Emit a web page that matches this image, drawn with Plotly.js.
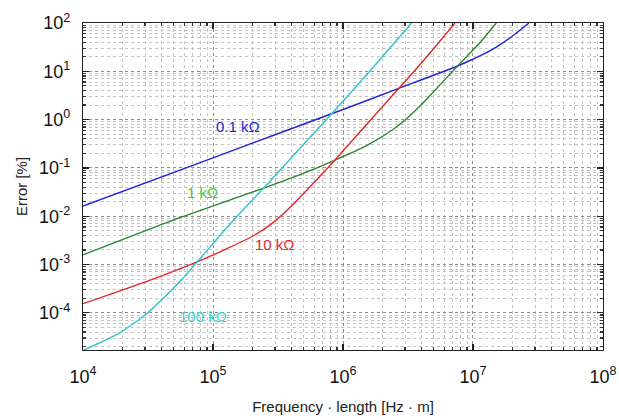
<!DOCTYPE html>
<html>
<head>
<meta charset="utf-8">
<script src="https://cdn.plot.ly/plotly-3.0.1.min.js"></script>
<style>html,body{margin:0;padding:0;background:#fff;}#chart{width:619px;height:419px;}</style>
</head>
<body>
<div id="chart"></div>
<script>
// Frequency · length [Hz · m]
const blueX  = [1e4, 1e5, 1e6, 2.59e6, 7.94e6, 1.26e7, 1.51e7, 2.04e7, 2.69e7];
const blueY  = [0.0162, 0.162, 1.62, 4.27, 13.5, 24.0, 31.6, 55.0, 100];

const greenX = [1e4, 5.57e4, 2.51e5, 4.67e5, 8.18e5, 1.52e6, 2.44e6, 3.09e6, 3.91e6, 4.95e6, 7.94e6, 1.12e7, 1.51e7];
const greenY = [1.58e-3, 9.33e-3, 0.0389, 0.0724, 0.135, 0.288, 0.631, 1.05, 1.91, 3.72, 14.5, 38.0, 100];

const redX   = [1e4, 2.0e4, 3.98e4, 7.94e4, 1.26e5, 2.0e5, 2.82e5, 3.98e5, 5.62e5, 7.94e5, 1.12e6, 2.0e6, 3.98e6, 7.28e6];
const redY   = [1.55e-4, 2.95e-4, 5.75e-4, 1.20e-3, 2.09e-3, 3.80e-3, 6.92e-3, 0.0158, 0.0417, 0.112, 0.316, 1.82, 14.5, 100];

const cyanX  = [1e4, 1.35e4, 1.93e4, 3.09e4, 5.57e4, 7.94e4, 1.13e5, 1.61e5, 2.51e5, 4.15e5, 8.18e5, 1.58e6, 3.37e6];
const cyanY  = [1.66e-5, 2.40e-5, 3.90e-5, 9.55e-5, 4.47e-4, 1.32e-3, 4.0e-3, 0.0115, 0.0407, 0.18, 1.32, 9.55, 100];

const seriesNames = ["0.1 k\u03A9", "1 k\u03A9", "10 k\u03A9", "100 k\u03A9"];
const xTickVals = [1e4, 1e5, 1e6, 1e7, 1e8];
const xTickText = ["10<sup>4</sup>", "10<sup>5</sup>", "10<sup>6</sup>", "10<sup>7</sup>", "10<sup>8</sup>"];
const yTickVals = [1e-4, 1e-3, 1e-2, 1e-1, 1, 10, 100];
const yTickText = ["10<sup>-4</sup>", "10<sup>-3</sup>", "10<sup>-2</sup>", "10<sup>-1</sup>", "10<sup>0</sup>", "10<sup>1</sup>", "10<sup>2</sup>"];

const lineColors  = ["rgb(35,35,215)", "rgb(40,135,45)", "rgb(228,38,38)", "rgb(45,195,200)"];
const labelColors = ["rgb(35,35,215)", "rgb(70,200,70)", "rgb(228,38,38)", "rgb(50,215,215)"];
// label anchor positions (log10 units)
const labelPos = [[5.19, -0.135], [4.92, -1.5], [5.477, -2.594], [4.92, -4.083]];

const xs = [blueX, greenX, redX, cyanX];
const ys = [blueY, greenY, redY, cyanY];

const traces = xs.map((x, i) => ({
  x: x, y: ys[i], type: 'scatter', mode: 'lines', name: seriesNames[i],
  line: {color: lineColors[i], width: 1.4, shape: 'spline', smoothing: 0.6},
  showlegend: false, hoverinfo: 'skip'
}));

const annotations = seriesNames.map((t, i) => ({
  x: labelPos[i][0], y: labelPos[i][1], xref: 'x', yref: 'y', text: t,
  showarrow: false, font: {family: 'Liberation Sans, Arial, sans-serif', size: 15, color: labelColors[i]},
  xanchor: 'center', yanchor: 'middle'
}));

const axisCommon = {
  type: 'log', showline: true, linecolor: '#222', linewidth: 1.2, mirror: 'allticks',
  ticks: 'inside', ticklen: 6, tickcolor: '#222', tickwidth: 1.2,
  showgrid: true, gridcolor: '#8c8c8c', griddash: 'dot', gridwidth: 1,
  zeroline: false, automargin: false, tickmode: 'array',
  tickfont: {family: 'Liberation Sans, Arial, sans-serif', size: 18, color: '#111'},
  minor: {dtick: 'D1', ticks: 'inside', ticklen: 3, tickcolor: '#333', showgrid: true, gridcolor: '#c4c4c4', griddash: 'dot', gridwidth: 1}
};

const layout = {
  width: 619, height: 419,
  margin: {l: 83, r: 16, t: 23, b: 69},
  paper_bgcolor: '#fff', plot_bgcolor: '#fff',
  xaxis: Object.assign({}, axisCommon, {
    range: [3.9999, 8.0001], tickvals: xTickVals, ticktext: xTickText, ticklabelstandoff: 10,
    title: {text: 'Frequency \u00B7 length [Hz \u00B7 m]', standoff: 15,
            font: {family: 'Liberation Sans, Arial, sans-serif', size: 15, color: '#222'}}
  }),
  yaxis: Object.assign({}, axisCommon, {
    range: [-4.77, 2.0001], tickvals: yTickVals, ticktext: yTickText, ticklabelstandoff: 8,
    title: {text: 'Error [%]', standoff: 7,
            font: {family: 'Liberation Sans, Arial, sans-serif', size: 15, color: '#222'}}
  }),
  annotations: annotations
};

Plotly.newPlot('chart', traces, layout, {staticPlot: true, displayModeBar: false});
</script>
</body>
</html>
